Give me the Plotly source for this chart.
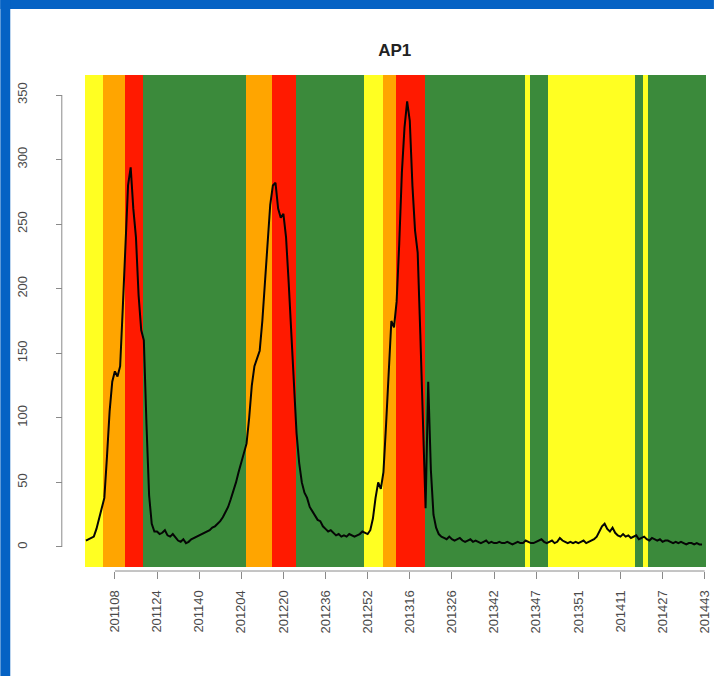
import plotly.graph_objects as go

# ---- data ----
title_text = "AP1"

# weekly values (week index 0..234)
values = [
    5, 6, 7, 8, 14, 22, 28, 38, 70, 105,
    128, 136, 132, 140, 185, 240, 280, 294, 262, 240,
    195, 168, 160, 95, 40, 18, 12, 12, 10, 11,
    13, 9, 8, 10, 7, 5, 4, 6, 3, 4,
    6, 7, 8, 9, 10, 11, 12, 13, 15, 16,
    18, 20, 23, 27, 31, 37, 43, 50, 58, 66,
    74, 80, 100, 125, 140, 146, 152, 175, 205, 240,
    265, 280, 282, 262, 255, 258, 240, 205, 165, 120,
    88, 65, 50, 42, 38, 31, 28, 24, 21, 20,
    16, 14, 12, 13, 11, 9, 10, 8, 9, 8,
    10, 9, 8, 9, 10, 12, 11, 10, 13, 22,
    38, 50, 45, 58, 95, 130, 175, 170, 190, 235,
    290, 325, 345, 330, 280, 245, 228, 165, 95, 30,
    128, 60, 25, 15, 10, 8, 7, 6, 8, 6,
    5, 6, 7, 5, 4, 5, 6, 4, 5, 4,
    3, 4, 5, 3, 4, 3, 3, 4, 3, 3,
    4, 3, 2, 3, 4, 3, 3, 5, 4, 3,
    3, 4, 5, 6, 4, 3, 4, 5, 3, 4,
    7, 5, 4, 3, 4, 3, 4, 3, 4, 5,
    3, 4, 5, 6, 8, 12, 16, 18, 14, 12,
    15, 11, 9, 8, 10, 8, 9, 7, 8, 9,
    6, 7, 8, 6, 5, 7, 6, 5, 6, 4,
    5, 5, 4, 3, 4, 3, 4, 3, 2, 3,
    3, 2, 3, 2, 2,
]

# alert-level periods: first week index, last week index, level
band_first = [0, 7, 15, 22, 61, 71, 80, 106, 113, 118, 129, 167, 169, 176, 209, 212, 214]
band_last  = [6, 14, 21, 60, 70, 79, 105, 112, 117, 128, 166, 168, 175, 208, 211, 213, 235]
band_level = ["yellow", "orange", "red", "green", "orange", "red", "green", "yellow",
              "orange", "red", "green", "yellow", "green", "yellow", "green", "yellow", "green"]

# x-axis tick labels (epidemiological weeks) and their week indices
tick_index = [11, 27, 43, 59, 75, 91, 107, 123, 139, 155, 171, 187, 203, 219, 235]
tick_labels = ["201108", "201124", "201140", "201204", "201220", "201236", "201252",
               "201316", "201326", "201342", "201347", "201351", "201411", "201427", "201443"]

y_ticks = [0, 50, 100, 150, 200, 250, 300, 350]

# ---- styles ----
level_colors = {"yellow": "#ffff22", "orange": "#ffa500", "red": "#ff1a00", "green": "#3b8a3b"}
Y_MIN, Y_MAX = -15.5, 365.5
X_MIN, X_MAX = -0.5, 235.5

fig = go.Figure()

centers = [(a + b) / 2 for a, b in zip(band_first, band_last)]
widths = [b - a + 1 for a, b in zip(band_first, band_last)]
fig.add_trace(go.Bar(
    x=centers, y=[Y_MAX - Y_MIN] * len(centers), base=Y_MIN, width=widths,
    marker=dict(color=[level_colors[l] for l in band_level], line=dict(width=0)),
    hoverinfo="skip", showlegend=False,
))

fig.add_trace(go.Scatter(
    x=list(range(len(values))), y=values, mode="lines",
    line=dict(color="#050505", width=2), showlegend=False,
))

L, R, T, B = 40, 8, 75, 105
W, H = 720, 676
pw, ph = W - L - R, H - T - B

def px_x(p):
    return (p - L) / pw

def px_y(p):
    return (H - B - p) / ph

axis_font = dict(family="Liberation Sans, Arial, sans-serif", size=13, color="#4a4a4a")

fig.update_layout(
    width=W, height=H,
    margin=dict(l=L, r=R, t=T, b=B),
    paper_bgcolor="white", plot_bgcolor="white",
    bargap=0,
    title=dict(text="<b>%s</b>" % title_text, x=px_x(398), xref="paper", xanchor="center",
               y=1 - 50 / H, yref="container", yanchor="middle",
               font=dict(family="Liberation Sans, Arial, sans-serif", size=17, color="#222")),
    xaxis=dict(domain=[px_x(85), px_x(712)], range=[X_MIN, X_MAX], anchor="free", position=0,
               tickmode="array", tickvals=tick_index, ticktext=tick_labels, tickangle=-90,
               ticks="outside", ticklen=7, tickcolor="#8a8a8a", tickwidth=1,
               showgrid=False, zeroline=False, showline=False,
               tickfont=dict(family="Liberation Sans, Arial, sans-serif", size=13, color="#4a4a4a"),
               ticklabelstandoff=6),
    yaxis=dict(domain=[px_y(567), 1], range=[Y_MIN, Y_MAX], anchor="free", position=px_x(62),
               tickmode="array", tickvals=y_ticks, tickangle=-90,
               ticks="outside", ticklen=6, tickcolor="#8a8a8a", tickwidth=1,
               showgrid=False, zeroline=False, showline=False,
               tickfont=axis_font, ticklabelstandoff=24),
    shapes=[
        # blue frame (top and left)
        dict(type="rect", xref="paper", yref="paper", x0=px_x(0), x1=px_x(720),
             y0=px_y(0), y1=px_y(9), fillcolor="#0562c4", line=dict(width=0)),
        dict(type="rect", xref="paper", yref="paper", x0=px_x(0), x1=px_x(10),
             y0=px_y(0), y1=px_y(676), fillcolor="#0562c4", line=dict(width=0)),
        # R-style axis lines
        dict(type="line", xref="paper", yref="y", x0=px_x(62), x1=px_x(62), y0=0, y1=350,
             line=dict(color="#8a8a8a", width=1)),
        dict(type="line", xref="x", yref="paper", x0=tick_index[0], x1=tick_index[-1], y0=0, y1=0,
             line=dict(color="#8a8a8a", width=1)),
    ],
)

fig.write_html("out.html", config={"displayModeBar": False},
               post_script="document.body.style.margin='0';document.body.style.overflow='hidden';")
